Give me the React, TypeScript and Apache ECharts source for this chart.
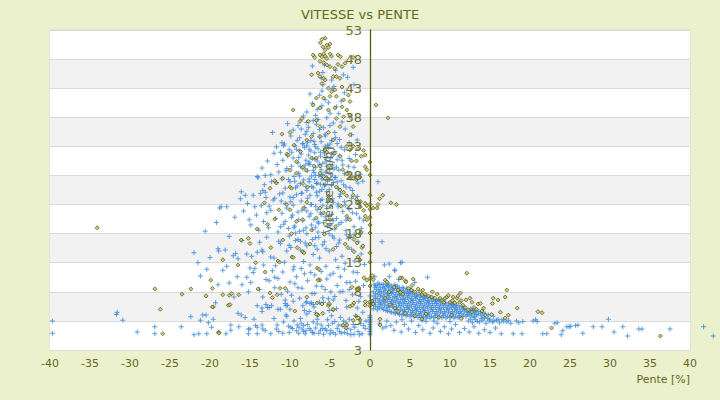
import React, { useEffect, useRef } from "react";
import * as echarts from "echarts";

// Axis ranges / ticks
const xMin = -40;
const xMax = 40;
const xStep = 5;
const yMin = -2;
const yMax = 53;
const yStep = 5;

const titleText = "VITESSE vs PENTE";
const xName = "Pente [%]";
const yName = "Vitesse [km/h]";

// ---- Blue series (crosses) ----
const blueLeft: number[][] = [
  [-39.7, 3.0], [-39.7, 0.9], [-31.6, 4.5], [-31.7, 4.1], [-30.9, 3.1], [-29.1, 1.1],
  [-26.9, 0.8], [-26.9, 2.0], [-23.6, 2.0], [-22.4, 3.7], [-22.0, 0.6], [-21.4, 0.8],
  [-20.4, 0.8], [-22.0, 14.7], [-21.5, 13.0],
];

const bluePeakTop: number[][] = [
  [-7.2, 46.8], [-5.7, 47.0], [-4.8, 44.4], [-3.3, 45.3], [-2.8, 44.9], [-2.1, 46.6], [-5.9, 45.7],
  [-6.1, 44.8], [-4.3, 46.1],
  [-7.5, 42.0], [-6.3, 41.8], [-6.0, 42.5], [-3.2, 42.2], [-4.5, 43.3], [-7.2, 40.4], [-6.0, 40.0],
  [-5.2, 40.5], [-4.2, 39.8], [-5.6, 41.0], [-4.7, 42.9], [-7.9, 38.9], [-6.8, 38.3], [-5.0, 38.7],
  [-3.6, 40.8], [-2.5, 38.0], [-2.0, 43.6], [-6.6, 39.4], [-5.4, 37.9], [-8.3, 38.2], [-3.9, 38.6],
  [-5.9, 43.6],
  [-11.7, 32.9], [-11.0, 33.6], [-10.7, 33.4], [-9.4, 33.1], [-8.8, 34.5], [-8.1, 35.1], [-7.7, 36.3],
  [-7.1, 37.4], [-6.7, 36.8], [-6.3, 35.9], [-5.6, 34.8], [-5.0, 36.6], [-4.4, 35.4], [-3.8, 34.2],
  [-3.1, 36.0], [-2.6, 33.6], [-9.9, 34.8], [-9.0, 36.6], [-8.4, 33.5], [-7.4, 34.0], [-6.9, 33.3],
  [-6.1, 33.8], [-5.3, 33.2], [-4.8, 34.0], [-4.1, 33.5], [-3.5, 37.2], [-10.3, 36.9], [-9.6, 35.8],
  [-7.9, 37.1], [-6.5, 37.6], [-5.8, 36.2], [-4.6, 37.0], [-2.3, 35.0], [-1.6, 34.1], [-8.6, 36.0],
  [-12.2, 35.4], [-7.1, 35.2],
];

const bluePeakMid: number[][] = [
  [-14.1, 27.8], [-13.5, 29.3], [-13.2, 26.4], [-12.8, 30.5], [-12.4, 28.1], [-12.0, 31.8], [-11.7, 26.8],
  [-11.6, 29.9], [-11.2, 32.0], [-11.0, 27.4], [-10.9, 30.6], [-10.6, 25.8], [-10.5, 28.8], [-10.3, 31.4],
  [-10.1, 32.4], [-10.0, 26.9],
  [-9.8, 29.6], [-9.6, 31.0], [-9.5, 27.8], [-9.3, 25.9], [-9.2, 32.5], [-9.0, 30.2], [-8.9, 28.4],
  [-8.7, 26.6], [-8.6, 31.7], [-8.4, 29.3], [-8.3, 27.2], [-8.2, 32.8], [-8.0, 30.6], [-7.9, 25.4],
  [-7.8, 28.8], [-7.7, 31.5], [-7.6, 26.9], [-7.5, 29.9], [-7.4, 32.2], [-7.3, 27.9], [-7.2, 30.9],
  [-7.1, 25.9], [-7.0, 28.5], [-6.9, 31.9], [-6.8, 29.4], [-6.7, 26.6], [-6.6, 30.5], [-6.5, 32.6],
  [-6.4, 28.0], [-6.3, 25.3], [-6.2, 31.3], [-6.1, 29.0], [-6.0, 27.4], [-5.9, 30.1], [-5.8, 32.3],
  [-5.7, 26.2], [-5.6, 28.6], [-5.5, 31.0], [-5.4, 29.6], [-5.3, 27.0], [-5.2, 32.8], [-5.1, 25.6],
  [-5.0, 30.4], [-4.9, 28.2], [-4.8, 31.7], [-4.6, 26.8], [-4.5, 29.1], [-4.4, 32.1], [-4.3, 27.7],
  [-4.1, 30.7], [-4.0, 25.8], [-3.9, 28.9], [-3.8, 31.4],
  [-3.6, 27.1], [-3.4, 29.8], [-3.2, 32.4], [-3.0, 26.0], [-2.8, 28.5], [-2.6, 30.9], [-2.4, 27.5],
  [-2.2, 25.4], [-2.0, 29.4], [-1.8, 31.6], [-1.5, 26.7], [-1.2, 28.2], [-0.9, 27.0],
  [-9.1, 26.2], [-8.5, 25.0], [-7.9, 33.1], [-7.3, 26.1], [-6.8, 32.9], [-6.3, 29.9], [-5.9, 28.1],
  [-5.4, 25.2], [-4.7, 29.8], [-8.1, 29.8], [-6.9, 27.3], [-5.6, 33.0], [-7.6, 30.3], [-6.2, 26.5],
  [-8.8, 32.3], [-16.1, 25.2], [-14.0, 27.6], [-13.4, 25.4], [-13.1, 25.1],
  [-16.2, 24.0], [-15.8, 21.9], [-15.3, 23.2], [-14.9, 19.5], [-14.6, 24.6], [-14.2, 21.2], [-13.9, 18.6],
  [-13.6, 22.8], [-13.3, 20.1], [-13.0, 24.2], [-12.7, 19.0], [-12.4, 22.0], [-12.1, 23.8], [-11.8, 20.6],
  [-11.5, 18.3], [-11.3, 24.8], [-11.0, 21.5], [-10.8, 19.6], [-10.6, 23.2], [-10.4, 22.4], [-10.2, 18.9],
  [-10.0, 24.3], [-9.8, 20.8], [-9.6, 22.9], [-9.4, 19.3], [-9.2, 24.7], [-9.0, 21.7], [-8.8, 18.4],
  [-8.6, 23.6], [-8.4, 20.2], [-8.2, 22.5], [-8.0, 19.0], [-7.8, 24.1], [-7.6, 21.0], [-7.4, 23.0],
  [-7.2, 18.7], [-7.0, 20.4], [-6.8, 22.7], [-6.6, 24.5], [-6.4, 19.8], [-6.2, 21.6], [-6.0, 23.9],
  [-5.8, 18.2], [-5.6, 20.9], [-5.4, 22.3], [-5.2, 24.0], [-5.0, 19.4], [-4.8, 21.3], [-4.6, 23.4],
  [-4.4, 18.8], [-4.2, 20.6], [-4.0, 22.6], [-3.8, 24.4], [-3.6, 19.9], [-3.4, 21.8], [-3.2, 23.5],
  [-3.0, 18.5], [-2.8, 20.7], [-2.6, 22.2], [-2.3, 24.1], [-2.0, 19.2], [-1.7, 21.4], [-1.4, 23.0],
  [-1.1, 18.9], [-0.8, 20.3], [-12.9, 21.6], [-11.1, 23.6], [-9.3, 18.1], [-7.9, 21.9], [-6.5, 18.3],
  [-17.9, 22.6], [-18.8, 22.4], [-18.6, 22.6], [-20.6, 18.4], [-19.2, 19.9], [-16.9, 20.8],
];

const bluePeakDense: number[][] = [
  [-10.8, 33.1], [-10.4, 29.2], [-10.2, 27.3], [-9.9, 23.5], [-9.7, 21.2], [-9.5, 19.0], [-9.3, 16.8],
  [-9.1, 34.0], [-8.9, 31.1], [-8.8, 27.9], [-8.6, 24.9], [-8.5, 22.0], [-8.3, 18.6], [-8.1, 16.4],
  [-7.9, 35.6], [-7.8, 33.7], [-7.7, 30.0], [-7.6, 27.4], [-7.5, 24.6], [-7.4, 21.4], [-7.3, 19.5],
  [-7.2, 17.0], [-7.0, 33.9], [-6.9, 30.8], [-6.8, 28.0], [-6.7, 25.1], [-6.6, 22.1], [-6.5, 20.0],
  [-6.4, 17.4], [-6.3, 34.6], [-6.2, 32.0], [-6.1, 27.8], [-6.0, 25.6], [-5.9, 22.8], [-5.8, 19.9],
  [-5.7, 16.6], [-5.6, 35.1], [-5.5, 30.3], [-5.4, 27.6], [-5.3, 23.4], [-5.2, 21.0], [-5.1, 18.0],
  [-5.0, 33.4], [-4.9, 31.0], [-4.8, 26.3], [-4.7, 24.0], [-4.6, 20.2], [-4.5, 17.2], [-4.3, 34.5],
  [-4.2, 29.4], [-4.1, 26.9], [-4.0, 23.1], [-3.9, 19.6], [-3.8, 16.9], [-3.6, 32.8], [-3.5, 30.6],
  [-3.3, 26.4], [-3.1, 22.9], [-3.0, 20.3], [-2.9, 17.8], [-2.7, 29.6], [-2.5, 25.9], [-2.2, 21.6],
  [-1.9, 27.9], [-1.6, 24.4], [-1.3, 20.7], [-11.4, 28.6], [-11.9, 24.1], [-12.3, 26.9], [-12.6, 22.7],
  [-13.1, 28.0], [-13.7, 24.9], [-14.4, 22.6], [-15.1, 20.4], [-15.6, 24.6], [-10.6, 20.1], [-10.1, 17.6],
  [-11.2, 19.2], [-9.8, 32.0], [-8.7, 29.6], [-8.0, 26.1], [-7.3, 23.0], [-6.8, 19.1], [-6.2, 23.7],
  [-5.6, 26.5], [-5.1, 29.0], [-4.6, 31.6], [-4.4, 27.6], [-3.7, 24.8], [-3.2, 28.3], [-9.4, 27.0],
  [-8.9, 20.4], [-8.4, 33.4], [-7.6, 32.5], [-7.1, 28.9], [-6.6, 26.7], [-6.1, 21.3], [-5.7, 31.7],
  [-5.3, 19.3], [-4.9, 22.6], [-9.6, 24.2], [-10.9, 25.0], [-7.9, 18.0], [-6.9, 15.9], [-5.5, 15.4],
  [-4.2, 15.8], [-8.7, 15.2], [-10.4, 15.0],
];

const bluePeakLow: number[][] = [
  [-19.0, 15.4], [-18.9, 15.0], [-18.1, 15.2], [-17.1, 14.2], [-16.8, 14.6], [-16.5, 13.7], [-15.4, 14.5],
  [-14.8, 14.1], [-14.1, 14.8], [-15.0, 12.1], [-14.4, 12.0], [-13.5, 15.2], [-13.4, 14.9], [-12.4, 14.0],
  [-12.0, 13.8], [-11.4, 16.7], [-11.2, 16.3], [-10.1, 16.0], [-9.9, 15.6], [-9.0, 17.0], [-8.7, 16.7],
  [-8.3, 13.2], [-7.9, 15.9], [-7.5, 12.6], [-7.1, 14.4], [-6.8, 17.3], [-6.3, 13.8], [-5.9, 16.1],
  [-5.5, 12.4], [-5.1, 15.0], [-4.7, 17.6], [-4.3, 13.5], [-3.9, 16.4], [-3.5, 14.1], [-3.1, 12.9],
  [-2.7, 17.1], [-2.3, 15.3], [-1.9, 13.3], [-1.5, 16.6], [-1.1, 14.5], [-0.7, 12.7], [-10.7, 13.1],
  [-9.5, 12.3], [-12.9, 17.4], [-13.8, 16.5], [-16.0, 16.8], [-17.6, 17.5], [-11.8, 12.5], [-6.6, 15.3],
  [-4.0, 12.2], [-2.0, 17.8],
  [-19.0, 9.2], [-17.6, 9.5], [-16.0, 9.2], [-15.4, 10.5], [-14.6, 11.3], [-13.8, 8.4], [-13.4, 7.1],
  [-12.6, 9.9], [-11.9, 10.5], [-11.5, 10.3], [-11.1, 7.6], [-10.6, 6.6], [-10.0, 9.7], [-9.4, 9.4],
  [-9.0, 8.7], [-8.5, 8.6], [-8.2, 11.1], [-7.9, 6.3], [-7.5, 6.0], [-7.1, 5.8], [-7.25, 7.7],
  [-6.9, 7.7], [-6.4, 10.1], [-5.9, 7.0], [-5.2, 6.8], [-4.6, 6.6], [-5.0, 10.9], [-4.6, 11.2],
  [-4.1, 9.1], [-3.75, 8.0], [-3.4, 8.1], [-2.9, 9.6], [-2.5, 9.6], [-2.1, 11.4], [-1.6, 11.3],
  [-1.2, 7.2], [-0.8, 9.1], [-18.4, 11.7], [-20.4, 11.9], [-21.2, 10.7], [-17.0, 7.1], [-15.2, 8.0],
  [-12.2, 11.6], [-9.6, 11.8], [-6.7, 9.0], [-5.6, 8.4], [-3.0, 6.5], [-2.2, 7.5], [-8.8, 6.9],
  [-10.3, 8.1], [-13.0, 10.1], [-6.1, 11.5],
  [-11.9, 8.7], [-10.9, 11.4], [-9.8, 7.4], [-9.2, 10.6], [-8.6, 12.0], [-7.8, 9.9], [-7.4, 11.3],
  [-6.9, 10.9], [-6.0, 8.9], [-5.4, 10.2], [-4.9, 8.0], [-4.4, 7.2], [-3.7, 10.6], [-3.2, 11.9],
  [-2.6, 8.4], [-1.8, 9.8], [-1.4, 6.4], [-16.6, 10.6], [-14.9, 9.6], [-13.3, 12.6], [-17.9, 12.4],
  [-20.0, 13.9],
];

const blueBottom: number[][] = [
  [-20.9, 4.0], [-20.5, 4.0], [-21.2, 3.1], [-20.2, 2.7], [-19.8, 1.9], [-19.6, 3.3], [-19.3, 6.1],
  [-18.9, 1.1], [-18.0, 0.8], [-17.4, 2.3], [-17.4, 1.4], [-16.5, 4.3], [-16.1, 4.0], [-15.6, 3.6],
  [-16.4, 2.0], [-15.2, 1.6], [-15.0, 1.6], [-15.2, 0.8], [-14.1, 0.8], [-14.5, 3.3], [-14.3, 2.2],
  [-14.1, 1.9], [-14.1, 5.6], [-13.5, 2.3], [-13.4, 1.6], [-13.1, 1.3], [-13.5, 5.2], [-13.0, 5.8],
  [-13.5, 4.6], [-12.8, 5.3], [-12.6, 5.3], [-12.4, 0.8], [-12.3, 5.6], [-11.6, 2.3], [-11.7, 1.6],
  [-11.5, 5.0], [-11.2, 5.0], [-10.5, 5.6], [-10.3, 5.7], [-10.0, 5.0], [-10.9, 0.9], [-10.6, 6.0],
  [-10.5, 4.0], [-10.4, 3.8], [-10.2, 2.1], [-9.9, 1.9], [-9.7, 1.7], [-9.6, 6.4],
  [-9.1, 2.3], [-8.9, 1.9], [-8.6, 2.6], [-8.3, 2.2], [-8.5, 1.6], [-8.3, 1.2], [-8.9, 0.9],
  [-8.0, 1.3], [-7.6, 1.7], [-7.4, 1.4], [-7.2, 1.0],
  [-8.4, 5.6], [-8.0, 6.1], [-8.2, 4.8], [-7.9, 4.2], [-7.6, 4.6], [-7.3, 6.1], [-7.0, 5.4], [-6.8, 4.4],
  [-6.1, 2.3], [-5.9, 1.7], [-5.6, 1.6], [-5.4, 1.3], [-4.9, 1.4], [-4.6, 1.0], [-4.1, 1.7],
  [-3.9, 2.3], [-3.4, 2.1], [-3.0, 2.7], [-2.6, 3.3], [-6.3, 6.2], [-5.8, 6.2], [-5.3, 3.2],
  [-4.8, 3.9], [-4.4, 2.9], [-3.7, 3.6], [-3.2, 1.0], [-2.8, 0.8], [-2.4, 1.5], [-2.1, 2.4],
  [-1.8, 3.9], [-1.5, 1.2], [-1.2, 2.6], [-0.9, 4.5], [-0.6, 1.7], [-1.6, 5.2], [-2.9, 5.4],
  [-4.2, 5.1], [-5.1, 4.8], [-6.6, 3.3], [-7.1, 2.8], [-6.4, 0.9], [-5.0, 0.8], [-3.6, 0.9],
  [-2.0, 0.7], [-1.0, 0.8], [-0.5, 3.0],
  [-12.0, 3.4], [-11.4, 1.2], [-10.8, 2.8], [-10.1, 1.0], [-9.5, 3.0], [-9.2, 1.3], [-8.7, 3.4],
  [-8.1, 0.8], [-7.8, 2.4], [-7.0, 0.9], [-6.8, 1.8], [-6.6, 2.5], [-6.2, 1.4], [-5.8, 0.7],
  [-5.2, 2.2], [-4.7, 2.6], [-4.3, 0.7], [-3.8, 1.2], [-3.3, 3.0], [-2.9, 1.7], [-2.4, 0.6],
  [-1.9, 1.9], [-1.3, 0.6], [-0.8, 2.2],
];

const blueAxis: number[][] = [
  [0, 0.6], [0, 0.9], [0, 1.2], [0, 1.5], [0, 1.8], [0, 2.1], [0, 2.4], [0, 2.7], [0, 3.0],
  [0, 3.3], [0, 3.6], [0, 3.9], [0, 6.0], [0, 7.3],
];

const blueCluster: number[][] = [
  [0.4, 5.1], [0.5, 5.8], [0.4, 6.6], [0.5, 7.3], [0.4, 8.0], [0.6, 8.7], [0.5, 9.3],
  [0.9, 4.9], [1.0, 5.5], [1.1, 6.2], [0.9, 6.9], [1.0, 7.6], [1.1, 8.3], [0.9, 9.0], [1.0, 9.5],
  [1.5, 5.2], [1.4, 5.9], [1.6, 6.6], [1.5, 7.3], [1.4, 8.0], [1.6, 8.7], [1.5, 9.3],
  [2.0, 4.8], [2.1, 5.4], [1.9, 6.1], [2.0, 6.8], [2.1, 7.5], [1.9, 8.2], [2.0, 8.9], [2.1, 9.4],
  [2.5, 4.6], [2.4, 5.3], [2.6, 6.0], [2.5, 6.7], [2.4, 7.4], [2.6, 8.1], [2.5, 8.8], [2.4, 9.3],
  [3.0, 4.4], [3.1, 5.1], [2.9, 5.8], [3.0, 6.5], [3.1, 7.2], [2.9, 7.9], [3.0, 8.6], [3.1, 9.2],
  [3.5, 4.3], [3.4, 5.0], [3.6, 5.7], [3.5, 6.4], [3.4, 7.1], [3.6, 7.8], [3.5, 8.5], [3.4, 9.0],
  [4.0, 4.0], [4.1, 4.7], [3.9, 5.4], [4.0, 6.1], [4.1, 6.8], [3.9, 7.5], [4.0, 8.2], [4.1, 8.8],
  [4.5, 3.9], [4.4, 4.6], [4.6, 5.3], [4.5, 6.0], [4.4, 6.7], [4.6, 7.4], [4.5, 8.0], [4.6, 8.6],
  [5.0, 3.8], [5.1, 4.5], [4.9, 5.2], [5.0, 5.9], [5.1, 6.6], [4.9, 7.3], [5.0, 7.9], [5.1, 8.4],
  [5.5, 3.7], [5.4, 4.4], [5.6, 5.1], [5.5, 5.8], [5.4, 6.5], [5.6, 7.2], [5.5, 7.8],
  [6.0, 3.6], [6.1, 4.3], [5.9, 5.0], [6.0, 5.7], [6.1, 6.4], [5.9, 7.1], [6.0, 7.6],
  [6.5, 3.6], [6.4, 4.2], [6.6, 4.9], [6.5, 5.6], [6.4, 6.3], [6.6, 7.0], [6.5, 7.4],
  [7.0, 3.5], [7.1, 4.1], [6.9, 4.8], [7.0, 5.5], [7.1, 6.2], [6.9, 6.9], [7.0, 7.3],
  [7.5, 3.5], [7.4, 4.2], [7.6, 4.9], [7.5, 5.6], [7.4, 6.3], [7.6, 7.0],
  [8.0, 3.6], [8.1, 4.3], [7.9, 5.0], [8.0, 5.7], [8.1, 6.4], [7.9, 6.8],
  [8.5, 3.5], [8.4, 4.2], [8.6, 4.9], [8.5, 5.6], [8.4, 6.3], [8.6, 6.7],
  [9.0, 3.6], [9.1, 4.3], [8.9, 5.0], [9.0, 5.7], [9.1, 6.4],
  [9.5, 3.5], [9.4, 4.2], [9.6, 4.9], [9.5, 5.6], [9.4, 6.2],
  [10.0, 3.6], [10.1, 4.3], [9.9, 5.0], [10.0, 5.6], [10.1, 6.1],
  [10.5, 3.5], [10.4, 4.2], [10.6, 4.9], [10.5, 5.5], [10.4, 5.9],
  [11.0, 3.6], [11.1, 4.3], [10.9, 4.9], [11.0, 5.6],
  [11.5, 3.7], [11.4, 4.3], [11.6, 5.0], [11.5, 5.5],
  [12.0, 3.8], [12.1, 4.4], [11.9, 5.0],
  [12.5, 3.9], [12.4, 4.5], [12.6, 5.1],
  [13.0, 3.8], [13.1, 4.4], [12.9, 5.0],
  [13.5, 4.0], [13.6, 4.6], [14.0, 3.9], [14.1, 4.5],
];

const blueClusterFill: number[][] = [
  [0.7, 5.4], [0.7, 6.2], [0.7, 6.9], [0.7, 7.7], [0.8, 8.4], [0.7, 9.1],
  [1.2, 5.2], [1.3, 5.9], [1.2, 6.6], [1.3, 7.3], [1.2, 8.0], [1.3, 8.7], [1.2, 9.3],
  [1.7, 5.0], [1.8, 5.7], [1.7, 6.4], [1.8, 7.1], [1.7, 7.8], [1.8, 8.5], [1.7, 9.2],
  [2.2, 4.7], [2.3, 5.7], [2.2, 6.4], [2.3, 7.1], [2.2, 7.8], [2.3, 8.5], [2.2, 9.1],
  [2.7, 4.5], [2.8, 5.5], [2.7, 6.3], [2.8, 7.0], [2.7, 7.7], [2.8, 8.4], [2.7, 9.0],
  [3.2, 4.3], [3.3, 5.4], [3.2, 6.1], [3.3, 6.8], [3.2, 7.5], [3.3, 8.2], [3.2, 8.9],
  [3.7, 4.1], [3.8, 4.9], [3.7, 6.0], [3.8, 6.7], [3.7, 7.4], [3.8, 8.1], [3.7, 8.7],
  [4.2, 4.2], [4.3, 5.0], [4.2, 5.7], [4.3, 6.4], [4.2, 7.1], [4.3, 7.8], [4.2, 8.5],
  [4.7, 4.1], [4.8, 4.9], [4.7, 5.6], [4.8, 6.3], [4.7, 7.0], [4.8, 7.7], [4.7, 8.3],
  [5.2, 4.0], [5.3, 4.8], [5.2, 5.5], [5.3, 6.2], [5.2, 6.9], [5.3, 7.5], [5.2, 8.1],
  [5.7, 4.0], [5.8, 4.7], [5.7, 5.4], [5.8, 6.1], [5.7, 6.8], [5.8, 7.4],
  [6.2, 3.9], [6.3, 4.6], [6.2, 5.3], [6.3, 6.0], [6.2, 6.7], [6.3, 7.3],
  [6.7, 3.8], [6.8, 4.5], [6.7, 5.2], [6.8, 5.9], [6.7, 6.6], [6.8, 7.1],
  [7.2, 3.8], [7.3, 4.5], [7.2, 5.2], [7.3, 5.9], [7.2, 6.5], [7.3, 7.0],
  [7.7, 3.8], [7.8, 4.6], [7.7, 5.3], [7.8, 6.0], [7.7, 6.6],
  [8.2, 3.9], [8.3, 4.6], [8.2, 5.3], [8.3, 6.0], [8.2, 6.6],
  [8.7, 3.8], [8.8, 4.5], [8.7, 5.2], [8.8, 5.9], [8.7, 6.5],
  [9.2, 3.9], [9.3, 4.6], [9.2, 5.3], [9.3, 6.0],
  [9.7, 3.8], [9.8, 4.5], [9.7, 5.2], [9.8, 5.9],
  [10.2, 3.9], [10.3, 4.6], [10.2, 5.3], [10.3, 5.8],
  [10.7, 3.8], [10.8, 4.5], [10.7, 5.2], [10.8, 5.7],
  [11.2, 3.9], [11.3, 4.6], [11.2, 5.2],
  [11.7, 4.0], [11.8, 4.7], [11.7, 5.3],
  [12.2, 4.1], [12.3, 4.7], [12.7, 4.2], [12.8, 4.8], [13.3, 4.1], [13.2, 4.7], [13.8, 4.3],
  [14.4, 4.2], [14.8, 4.0], [15.4, 3.8],
];

const blueBelowCluster: number[][] = [
  [12.3, 3.0], [12.8, 2.7], [13.2, 3.2], [13.7, 2.8], [14.1, 3.1], [14.5, 2.6], [14.9, 3.0],
  [15.3, 2.8], [15.8, 3.1], [16.2, 2.7], [16.7, 3.0], [17.1, 2.8], [17.6, 2.6], [15.0, 3.3],
  [13.9, 3.4], [16.0, 3.3], [18.3, 3.0], [18.6, 2.7], [12.6, 3.3], [13.4, 2.9], [14.7, 3.4],
  [15.5, 3.0], [16.5, 3.2], [17.3, 3.1], [13.0, 3.6], [14.3, 3.6],
  [1.2, 2.6], [1.6, 1.8], [2.1, 3.0], [2.6, 2.2], [3.0, 1.4], [3.3, 2.8], [3.9, 1.1], [4.3, 2.4],
  [4.8, 1.6], [5.2, 3.0], [5.7, 1.0], [6.1, 2.2], [6.6, 1.5], [7.0, 2.9], [7.5, 0.9], [7.9, 1.8],
  [8.4, 2.6], [8.8, 1.2], [9.3, 2.0], [9.8, 0.8], [10.2, 1.6], [10.7, 2.4], [11.2, 1.0], [11.8, 1.7],
  [12.4, 1.1], [13.0, 2.0], [13.6, 0.9], [14.3, 1.5], [15.0, 1.0], [15.7, 1.8], [16.4, 0.8],
  [2.0, 2.0], [4.0, 3.2], [6.5, 3.1], [8.0, 3.0], [10.0, 2.9],
  [1.0, 26.9], [1.5, 16.6], [4.0, 13.1], [3.1, 11.75], [7.2, 10.5], [2.4, 10.6], [1.8, 12.6],
  [2.4, 12.8], [3.8, 13.0], [3.1, 11.6], [0.6, 10.6], [5.6, 9.6], [3.6, 10.1],
];

const blueTail: number[][] = [
  [17.9, 0.8], [19.0, 0.8], [19.1, 2.9], [20.4, 3.0], [20.7, 3.2], [20.9, 2.9], [21.6, 0.8],
  [22.1, 0.8], [23.1, 2.6], [23.4, 2.7], [23.9, 0.6], [24.1, 1.3], [24.6, 2.0], [24.9, 2.0],
  [25.1, 2.1], [25.7, 2.2], [26.0, 2.3], [26.6, 0.9], [27.9, 2.0], [29.0, 2.0], [29.8, 3.3],
  [30.5, 1.1], [31.6, 2.0], [32.2, 0.4], [33.6, 1.6], [34.0, 1.6], [37.5, 1.6], [41.7, 2.0],
  [42.9, 0.4],
];

// ---- Olive series (diamonds) ----
const olivePeakTop: number[][] = [
  [-5.6, 51.6], [-6.0, 51.4], [-6.2, 50.8], [-5.9, 50.1], [-5.4, 50.4], [-5.2, 50.0], [-5.0, 50.6],
  [-5.6, 49.6], [-5.8, 48.9], [-6.25, 48.7], [-7.1, 48.7], [-6.9, 48.3], [-6.0, 48.4], [-5.6, 48.5],
  [-5.4, 48.1], [-4.8, 48.5], [-5.0, 48.9], [-4.0, 48.7], [-3.7, 48.4], [-3.1, 47.3], [-2.1, 48.3],
  [-6.25, 47.6], [-5.8, 47.4], [-5.4, 47.0], [-5.0, 46.7], [-4.4, 46.4], [-4.0, 47.1], [-3.5, 46.7],
  [-7.3, 45.3], [-6.5, 45.6], [-6.25, 45.0], [-5.8, 44.7], [-5.6, 44.4], [-4.6, 45.0], [-4.2, 45.0],
  [-3.75, 44.7], [-6.0, 43.8], [-5.2, 43.0], [-4.8, 42.4], [-4.4, 42.7], [-3.5, 43.2], [-2.7, 41.8],
  [-6.7, 41.3], [-5.8, 41.3], [-5.0, 41.6], [-4.2, 41.6], [-3.3, 41.0], [-2.5, 40.7], [-9.6, 39.25],
  [-7.1, 40.1], [-6.25, 39.6], [-5.2, 39.25], [-4.4, 39.6], [-3.5, 39.8], [-2.9, 39.25], [-8.5, 37.8],
  [-8.75, 37.3], [-7.7, 37.3], [-6.7, 37.5], [-4.2, 37.8], [-3.3, 38.1], [-2.5, 38.4], [-2.1, 36.4],
  [-3.75, 36.4], [-6.25, 36.4], [0.75, 40.1], [2.25, 37.9], [-2.5, 35.0], [-0.6, 31.5], [-1.1, 31.3],
];

const olivePeakMid: number[][] = [
  [-10.0, 35.4], [-11.0, 35.1], [-10.4, 31.7], [-10.2, 31.5], [-9.2, 30.4], [-8.4, 29.4], [-8.0, 28.9],
  [-10.0, 28.9], [-9.2, 28.4], [-11.7, 26.7], [-11.9, 27.1], [-10.9, 27.5], [-12.5, 25.8], [-10.0, 26.0],
  [-9.8, 25.8], [-8.4, 26.6], [-7.8, 26.0], [-7.3, 31.0], [-6.7, 31.0], [-7.0, 29.6], [-6.25, 29.6],
  [-6.25, 28.4], [-5.8, 27.8], [-5.6, 32.3], [-5.4, 32.0], [-7.9, 34.1], [-7.3, 34.7], [-6.25, 34.7],
  [-5.2, 35.4], [-4.6, 34.1], [-4.4, 31.8], [-3.75, 31.3], [-2.9, 33.0], [-2.5, 32.4], [-2.1, 33.0],
  [-1.5, 32.6], [-0.8, 32.3], [-2.3, 30.5], [-1.7, 30.5], [-2.9, 28.3], [-2.5, 28.0], [-2.1, 27.5],
  [-1.7, 27.3], [-1.25, 27.7], [-0.6, 29.5], [-0.4, 29.0], [-4.2, 26.0], [-3.75, 25.5], [-3.3, 25.1],
  [-2.9, 24.5], [-2.1, 24.6], [-1.7, 23.9], [-1.2, 23.5], [-0.6, 23.2], [0.0, 23.0], [0.4, 22.4],
  [0.9, 22.4], [-5.2, 24.4], [-4.8, 23.6], [-6.25, 22.4], [-5.8, 21.6], [-7.9, 23.4], [-8.3, 22.4],
  [-10.4, 23.0], [-10.0, 22.1], [-11.4, 22.1], [-11.9, 20.5], [-9.2, 20.1], [-8.4, 20.4], [-6.7, 20.7],
  [-5.0, 20.4], [-2.9, 21.0], [-2.5, 20.4], [-0.6, 21.0], [-0.4, 20.4], [-1.6, 23.3], [-1.2, 22.6],
  [-0.8, 22.0], [-0.4, 22.8], [-2.5, 17.5], [-2.0, 17.0], [-1.6, 16.4], [-1.25, 13.5], [-0.4, 10.0],
  [-9.5, 33.2], [-8.7, 32.1], [-3.4, 29.0], [-4.9, 29.3], [-3.6, 22.7], [-4.3, 19.2], [-7.3, 18.6],
  [-9.8, 18.0], [-12.8, 19.6], [-14.1, 18.8], [-13.2, 23.3], [-3.1, 16.2], [-4.6, 15.3], [-5.7, 17.9],
  [-7.5, 16.2], [-10.9, 16.9], [-12.4, 15.6],
  [1.0, 23.0], [1.6, 24.6], [2.6, 23.3], [3.3, 23.0], [1.2, 24.0],
];

const oliveLow: number[][] = [
  [-34.1, 19.0], [-26.9, 8.5], [-22.4, 8.5], [-23.5, 7.6], [-26.2, 5.0], [-25.9, 0.8], [-16.1, 16.9],
  [-15.2, 17.2], [-15.0, 16.3], [-18.4, 13.5], [-16.5, 12.6], [-14.3, 13.0], [-19.9, 10.0], [-19.7, 8.6],
  [-20.5, 7.3], [-18.4, 7.5], [-17.6, 7.4], [-17.3, 7.7], [-16.4, 7.5], [-17.7, 5.7], [-17.5, 5.8],
  [-19.6, 5.4], [-18.9, 1.0], [-14.0, 8.5], [-13.1, 11.4], [-12.5, 7.8], [-12.2, 7.0], [-11.6, 7.5],
  [-11.25, 8.6], [-10.6, 8.6], [-11.5, 13.3], [-11.3, 13.1], [-9.1, 15.6], [-8.4, 14.9], [-8.25, 14.7],
  [-9.75, 14.0], [-9.6, 13.9], [-7.9, 7.1], [-6.6, 12.1], [-6.4, 11.9], [-6.25, 10.0], [-6.5, 10.0],
  [-6.6, 6.1], [-6.0, 5.9], [-5.1, 5.8], [-4.6, 4.9], [-5.9, 4.3], [-6.5, 4.0], [-3.4, 2.3],
  [-3.0, 1.8], [-2.9, 2.3], [-2.1, 3.1], [-1.7, 3.8], [-1.25, 3.2], [-1.5, 8.5], [-1.4, 8.7],
  [-0.6, 6.3], [0.25, 6.4], [-0.75, 10.4], [0.25, 10.8], [-2.25, 8.8], [-2.75, 15.6],
  [-2.0, 14.9], [-1.5, 14.0], [-1.0, 15.6], [-0.9, 15.9], [-1.25, 18.0], [-1.1, 18.3], [-9.4, 4.7],
  [-6.7, 4.1], [-5.2, 5.6], [-5.1, 6.0], [-4.6, 5.0], [-2.5, 5.5], [-2.2, 5.7], [-2.0, 6.1],
  [-19.7, 5.4], [-18.9, 0.9], [-0.6, 5.7], [0.4, 5.9],
];

const oliveAxis: number[][] = [
  [0, 28.1], [0, 24.6], [0, 22.2], [0, 20.8], [0, 19.5], [0, 18.1], [0, 14.7], [0, 13.1],
  [0, 6.3], [0, 30.3], [0, 5.6], [0, 9.0], [0, 10.3],
];

const oliveRight: number[][] = [
  [0.4, 10.1], [1.9, 10.0], [2.1, 9.7], [4.0, 10.4], [4.4, 9.9], [3.75, 10.4], [5.25, 9.1],
  [4.5, 9.7], [5.4, 10.2], [3.5, 8.3], [3.8, 7.9], [4.1, 7.6], [4.8, 8.6], [5.2, 8.3], [5.6, 8.0],
  [6.0, 8.5], [6.3, 8.0], [6.5, 7.5], [6.6, 8.3], [6.9, 7.6], [7.3, 7.3], [7.7, 7.1], [8.1, 6.9],
  [8.75, 6.9], [9.0, 6.5], [9.2, 6.2], [9.4, 6.9], [9.6, 7.1], [10.0, 6.2], [10.3, 6.5], [10.6, 6.1],
  [10.4, 7.1], [10.9, 6.9], [11.2, 6.2], [11.4, 6.5], [11.6, 5.7], [11.9, 5.3], [12.3, 4.9],
  [12.75, 4.5], [13.0, 5.3], [13.3, 5.0], [13.5, 5.9], [14.0, 4.7], [12.5, 6.9], [12.75, 6.2],
  [12.1, 11.2], [15.4, 6.9], [16.0, 6.6], [17.1, 8.3], [16.9, 7.1], [18.4, 5.2], [13.8, 6.0],
  [16.9, 3.5], [15.2, 4.1], [14.4, 4.0], [16.3, 4.5], [17.3, 4.0], [21.0, 4.6], [21.5, 4.4],
  [22.7, 1.8], [36.3, 0.4], [1.9, 6.9], [2.5, 5.8], [3.1, 5.2], [3.5, 4.6], [4.4, 4.3], [5.6, 3.9],
  [6.5, 3.3], [1.25, 3.3], [1.25, 2.3], [7.8, 8.0], [8.4, 7.6], [9.8, 7.4], [11.0, 7.3], [3.0, 8.8],
  [2.4, 8.0], [7.0, 4.2], [8.6, 3.6], [10.2, 4.0], [11.4, 3.4], [11.3, 7.8], [12.0, 6.6], [15.3, 6.0],
  [14.2, 5.2],
];

const blueData = [
  ...blueLeft, ...bluePeakTop, ...bluePeakMid, ...bluePeakDense, ...bluePeakLow, ...blueBottom,
  ...blueAxis, ...blueCluster, ...blueClusterFill, ...blueBelowCluster, ...blueTail,
];
const oliveData = [...olivePeakTop, ...olivePeakMid, ...oliveLow, ...oliveAxis, ...oliveRight];

const plusSymbol = "path://M2,0H3V2H5V3H3V5H2V3H0V2H2Z";

const gridLeft = 50;
const gridRight = 30;
const chartWidth = 720;

export default function App() {
  const ref = useRef<HTMLDivElement>(null);

  useEffect(() => {
    if (!ref.current) return;
    const chart = echarts.init(ref.current, undefined, { renderer: "svg" });
    const olive = "#666622";
    // horizontal pixel distance from the grid's left edge to x = 0
    const plotWidth = chartWidth - gridLeft - gridRight;
    const zeroOffset = -plotWidth * ((0 - xMin) / (xMax - xMin));
    chart.setOption({
      animation: false,
      backgroundColor: "#ebf1cd",
      textStyle: { fontFamily: "DejaVu Sans" },
      title: {
        text: titleText,
        left: "center",
        top: 3,
        textStyle: { fontSize: 13, fontWeight: "normal", color: "#5f6b1f", fontFamily: "DejaVu Sans" },
      },
      grid: {
        left: gridLeft,
        right: gridRight,
        top: 30,
        bottom: 50,
        show: true,
        borderColor: "#d9d9d9",
        borderWidth: 1,
        backgroundColor: "transparent",
      },
      xAxis: {
        type: "value",
        min: xMin,
        max: xMax,
        interval: xStep,
        splitLine: { show: false },
        axisLine: { show: true, onZero: false, lineStyle: { color: "#d9d9d9" } },
        axisTick: { show: false },
        axisLabel: { color: olive, fontSize: 11, margin: 8 },
        name: xName,
        nameLocation: "end",
        nameGap: 0,
        nameTextStyle: {
          align: "right",
          verticalAlign: "top",
          padding: [24, 0, 0, 0],
          color: olive,
          fontSize: 11,
        },
      },
      yAxis: [
        {
          type: "value",
          min: yMin,
          max: yMax,
          interval: yStep,
          position: "left",
          axisLine: { show: false, onZero: false },
          axisTick: { show: false },
          axisLabel: { show: false },
          splitLine: { show: true, lineStyle: { color: "#d9d9d9" } },
          splitArea: { show: true, areaStyle: { color: ["#ffffff", "#f2f2f2"] } },
          z: 0,
        },
        {
          type: "value",
          min: yMin,
          max: yMax,
          interval: yStep,
          position: "left",
          offset: zeroOffset,
          axisLine: { show: true, onZero: false, lineStyle: { color: "#5a5a00", width: 1.3 } },
          axisTick: { show: false },
          splitLine: { show: false },
          splitArea: { show: false },
          axisLabel: {
            color: "#6e6e30",
            fontSize: 13,
            margin: 8,
            formatter: (v: number) => (v < 3 ? "3" : String(v)),
          },
          name: yName,
          nameLocation: "middle",
          nameGap: 20,
          nameTextStyle: { color: "#6e6e38", fontSize: 12 },
          z: 10,
        },
      ],
      series: [
        {
          type: "scatter",
          yAxisIndex: 0,
          data: blueData,
          symbol: plusSymbol,
          symbolSize: 5,
          itemStyle: { color: "#3585d8" },
          clip: false,
          z: 2,
        },
        {
          type: "scatter",
          yAxisIndex: 0,
          data: oliveData,
          symbol: "diamond",
          symbolSize: 4,
          itemStyle: { color: "#c4c47a", borderColor: "#4f4f00", borderWidth: 0.9 },
          clip: false,
          z: 3,
        },
      ],
    });
    return () => chart.dispose();
  }, []);

  return (
    <div
      ref={ref}
      style={{ position: "fixed", left: 0, top: 0, width: chartWidth, height: 400 }}
    />
  );
}
